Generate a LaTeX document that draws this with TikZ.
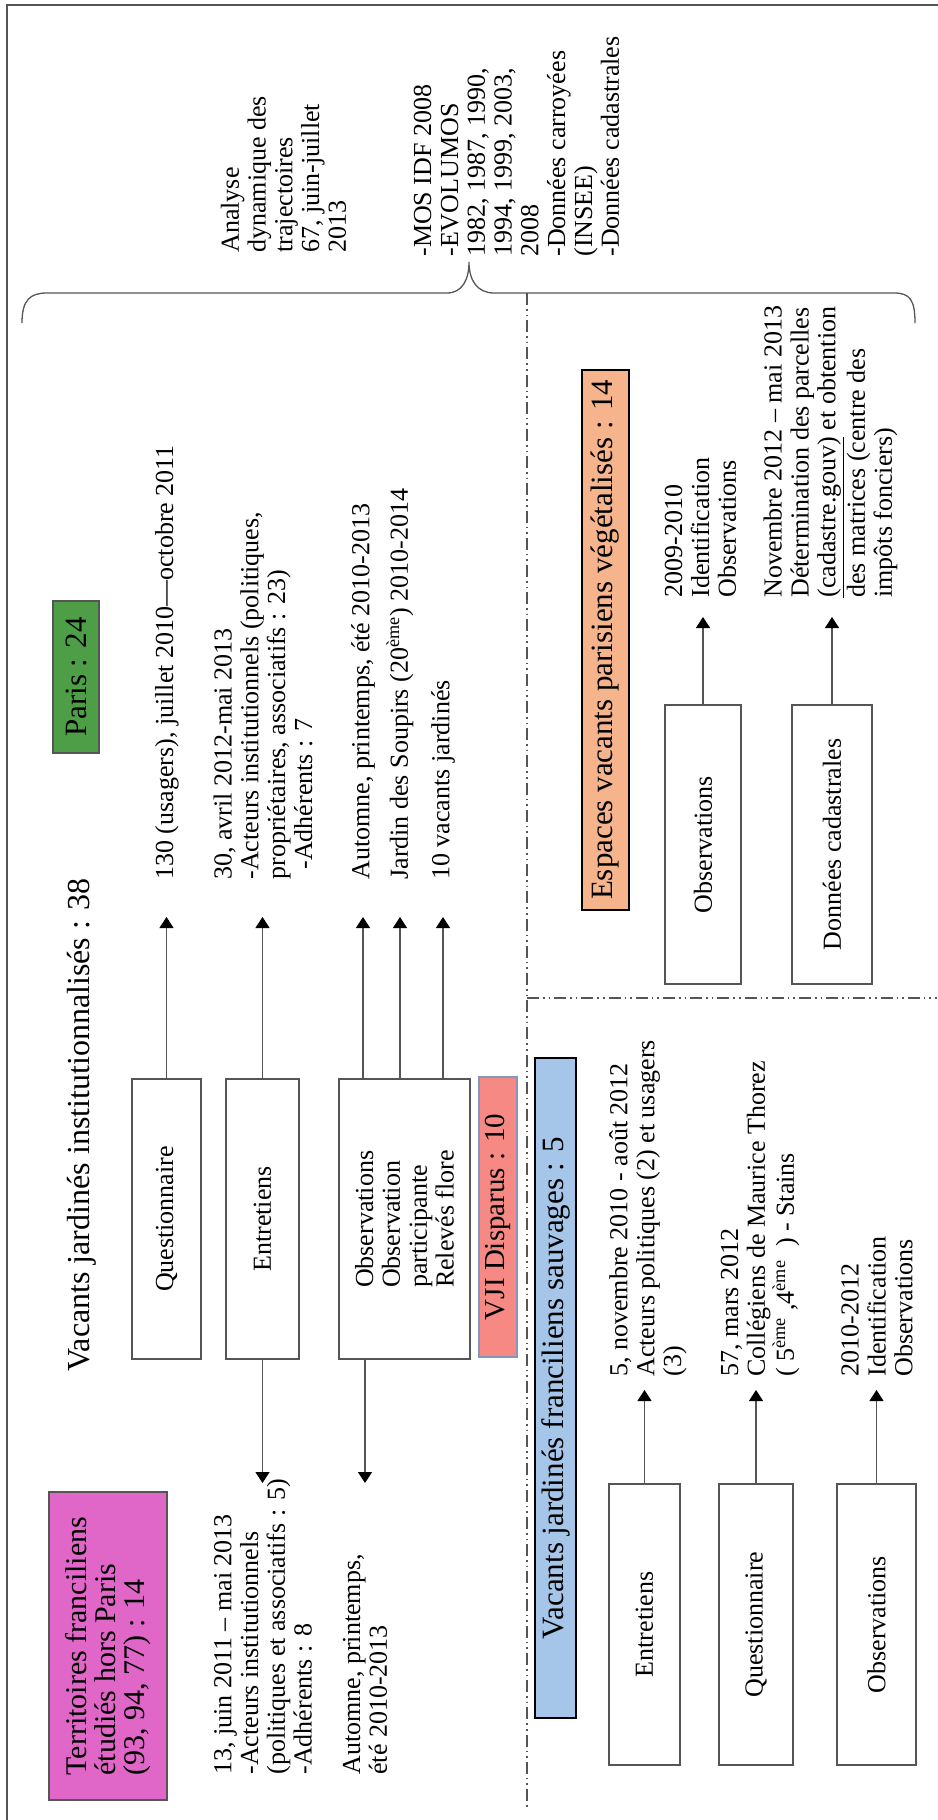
\documentclass[tikz,border=0pt]{standalone}
\usepackage{fontspec}
\setmainfont{Liberation Serif}
\usetikzlibrary{arrows.meta}
\definecolor{linegray}{RGB}{85,85,85}
\definecolor{parisgreen}{RGB}{78,158,72}
\definecolor{terrpink}{RGB}{224,102,200}
\definecolor{vjired}{RGB}{247,137,132}
\definecolor{vjiborder}{RGB}{130,150,190}
\definecolor{sauvblue}{RGB}{165,198,232}
\definecolor{esppeach}{RGB}{245,180,140}
\newcommand{\txtfont}{\fontsize{13pt}{13.4pt}\selectfont}
\newcommand{\tagfont}{\fontsize{15.5pt}{18pt}\selectfont}
\tikzset{
  methbox/.style={draw=linegray,line width=0.65pt,rotate=90,inner sep=0pt,align=left,font=\txtfont},
  tagbox/.style={draw=linegray,line width=0.6pt,rotate=90,inner sep=0pt,font=\tagfont},
  note/.style={rotate=90,inner sep=0pt,align=left,anchor=west,font=\txtfont},
  arr/.style={linegray,line width=0.6pt,-{Triangle[length=5.5pt,width=7pt,color=black]}},
  sepline/.style={linegray,line width=0.6pt,dash pattern=on 6pt off 2pt on 0.8pt off 2pt on 0.8pt off 2pt}
}
\begin{document}
\begin{tikzpicture}[x=0.5pt,y=-0.5pt]
    \useasboundingbox (0,0) rectangle (937,1820);
    %FRAME
    \draw[linegray,line width=1pt] (7,1830) -- (7,5) -- (945,5);
    %BRACE
    \draw[linegray,line width=0.65pt] (22,323) .. controls (22,300) and (30,293) .. (47,293) -- (447,293)
      .. controls (462,293) and (469,280) .. (469,262) .. controls (469,280) and (477,293) .. (494,293)
      -- (894,293) .. controls (910,293) and (915,300) .. (915,323);
    %SEPARATORS
    \draw[sepline] (527,293) -- (527,1807);
    \draw[sepline] (527,998) -- (937,998);
    %ARROW ENDS
    \coordinate (up1) at (0,917);
    \coordinate (up2) at (0,1390);
    \coordinate (up3) at (0,617);
    \coordinate (dn1) at (0,1483);

    %TOP NOTES
    \node[note] (nana) at (283.5,253) {Analyse\\dynamique des\\trajectoires\\67, juin-juillet\\2013};
    \node[note] (nmos) at (516.5,257) {-MOS IDF 2008\\-EVOLUMOS\\1982, 1987, 1990,\\1994, 1999, 2003,\\2008\\-Données carroyées\\(INSEE)\\-Données cadastrales};

    %INSTITUTIONNALISES
    \node[rotate=90,inner sep=0pt,font=\fontsize{16pt}{19pt}\selectfont] (title) at (82,1125) {Vacants jardinés institutionnalisés : 38};
    \node[tagbox,fill=parisgreen,minimum width=76pt,minimum height=23pt] (paris) at (76,677) {Paris : 24};
    \node[tagbox,fill=terrpink,minimum width=154pt,minimum height=59pt,align=left,font=\fontsize{15pt}{14.5pt}\selectfont] (terr) at (108,1646) {Territoires franciliens\\étudiés hors Paris\\(93, 94, 77) : 14};
    \node[methbox,minimum width=140pt,minimum height=34.5pt] (quest) at (166.5,1219) {Questionnaire};
    \node[methbox,minimum width=140pt,minimum height=36.5pt] (entr) at (262.5,1219) {Entretiens};
    \node[methbox,minimum width=140pt,minimum height=65.5pt] (obs) at (404.5,1219) {Observations\\Observation\\participante\\Relevés flore};
    \node[tagbox,fill=vjired,draw=vjiborder,minimum width=140pt,minimum height=19pt,font=\fontsize{14.5pt}{16pt}\selectfont] (vji) at (498,1217) {VJI Disparus : 10};

    \node[note] (nquest) at (167,880) {130 (usagers), juillet 2010—octobre 2011};
    \node[note] (nentr) at (263,880) {30, avril 2012-mai 2013\\-Acteurs institutionnels (politiques,\\propriétaires, associatifs : 23)\\\hspace{5pt}-Adhérents : 7};
    \node[note] (naut) at (363,880) {Automne, printemps, été 2010-2013};
    \node[note] (njar) at (400,880) {Jardin des Soupirs (20\textsuperscript{ème}) 2010-2014};
    \node[note] (nvac) at (443,880) {10 vacants jardinés};
    \node[note] (nentr2) at (263,1775) {13, juin 2011 – mai 2013\\-Acteurs institutionnels\\(politiques et associatifs : 5)\\-Adhérents : 8};
    \node[note] (naut2) at (365,1775) {Automne, printemps,\\été 2010-2013};

    \draw[arr] (quest.east) -- (quest.east |- up1);
    \draw[arr] (entr.east) -- (entr.east |- up1);
    \draw[arr] (naut.west |- obs.east) -- (naut.west |- up1);
    \draw[arr] (njar.west |- obs.east) -- (njar.west |- up1);
    \draw[arr] (nvac.west |- obs.east) -- (nvac.west |- up1);
    \draw[arr] (entr.west) -- (entr.west |- dn1);
    \draw[arr] (naut2.west |- obs.west) -- (naut2.west |- dn1);

    %SAUVAGES
    \node[tagbox,fill=sauvblue,draw=black,line width=1pt,minimum width=330pt,minimum height=20.5pt] (sauv) at (555.5,1388) {Vacants jardinés franciliens sauvages : 5};
    \node[methbox,minimum width=140.5pt,minimum height=35.5pt] (sentr) at (644.5,1624.5) {Entretiens};
    \node[methbox,minimum width=140.5pt,minimum height=37pt] (squest) at (756,1624.5) {Questionnaire};
    \node[methbox,minimum width=140.5pt,minimum height=39.5pt] (sobs) at (876.5,1624.5) {Observations};
    \node[note] (nsentr) at (648,1377) {5, novembre 2010 - août 2012\\Acteurs politiques (2) et usagers\\(3)};
    \node[note] (nsquest) at (760,1377) {57, mars 2012\\Collégiens de Maurice Thorez\\( 5\textsuperscript{ème} ,4\textsuperscript{ème} \ ) - Stains};
    \node[note] (nsobs) at (877,1377) {2010-2012\\Identification\\Observations};
    \draw[arr] (sentr.east) -- (sentr.east |- up2);
    \draw[arr] (squest.east) -- (squest.east |- up2);
    \draw[arr] (sobs.east) -- (sobs.east |- up2);

    %ESPACES VACANTS
    \node[tagbox,fill=esppeach,draw=black,line width=1pt,minimum width=270pt,minimum height=23.5pt] (esp) at (605.5,640) {Espaces vacants parisiens végétalisés : 14};
    \node[methbox,minimum width=139.5pt,minimum height=38pt] (eobs) at (703,844.5) {Observations};
    \node[methbox,minimum width=139.5pt,minimum height=40pt] (ecad) at (832,844.5) {Données cadastrales};
    \node[note] (neobs) at (700.5,598) {2009-2010\\Identification\\Observations};
    \node[note] (necad) at (830.5,598) {Novembre 2012 – mai 2013\\Détermination des parcelles\\\underline{(cadastre.gouv)} et obtention\\des matrices (centre des\\impôts fonciers)};
    \draw[arr] (eobs.east) -- (eobs.east |- up3);
    \draw[arr] (ecad.east) -- (ecad.east |- up3);
\end{tikzpicture}
\end{document}
